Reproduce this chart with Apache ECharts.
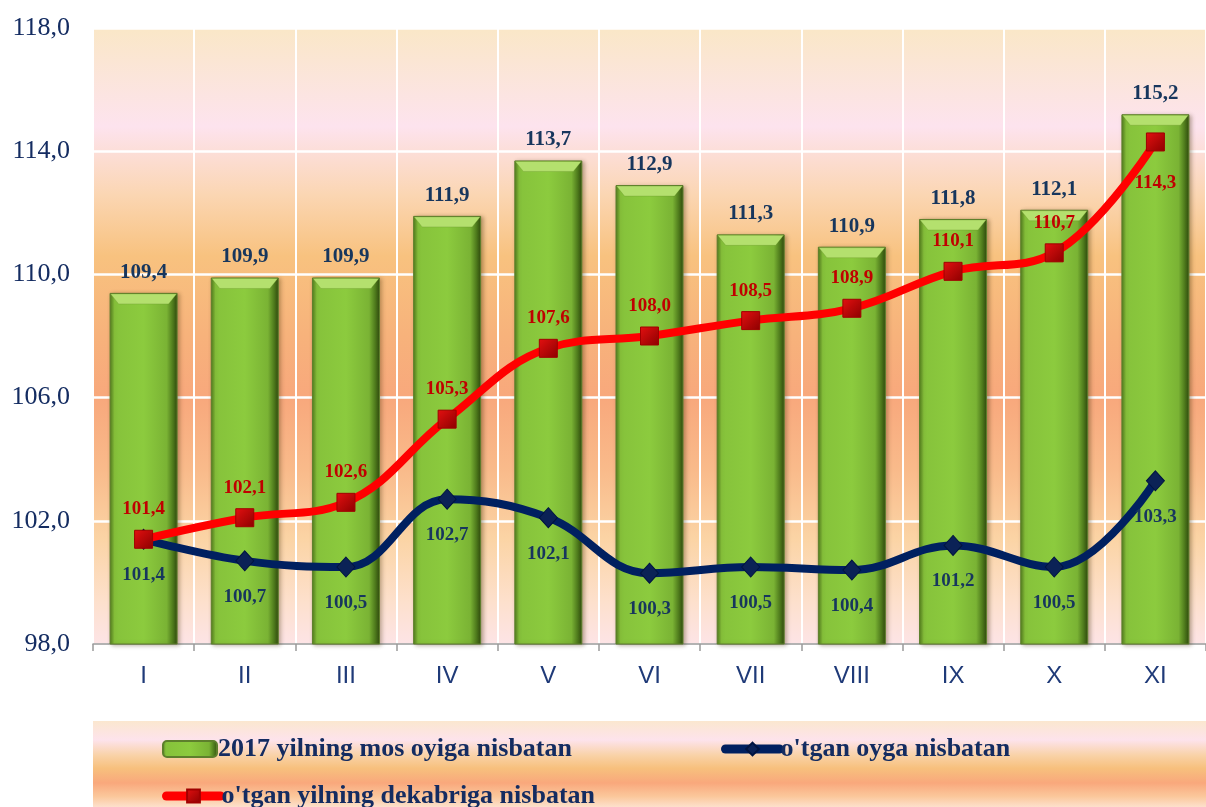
<!DOCTYPE html>
<html>
<head>
<meta charset="utf-8">
<title>Indekslar</title>
<script src="https://cdn.jsdelivr.net/npm/echarts@6/dist/echarts.min.js"></script>
<style>
  html, body { margin: 0; padding: 0; background: #fff; }
  #chart { width: 1206px; height: 807px; }
</style>
</head>
<body>
<div id="chart"></div>
<script>
// oylar
var months = ['I', 'II', 'III', 'IV', 'V', 'VI', 'VII', 'VIII', 'IX', 'X', 'XI'];
// 2017 yilning mos oyiga nisbatan
var prevYearMonth = [109.4, 109.9, 109.9, 111.9, 113.7, 112.9, 111.3, 110.9, 111.8, 112.1, 115.2];
// o'tgan oyga nisbatan
var prevMonth = [101.4, 100.7, 100.5, 102.7, 102.1, 100.3, 100.5, 100.4, 101.2, 100.5, 103.3];
// o'tgan yilning dekabriga nisbatan
var prevDecember = [101.4, 102.1, 102.6, 105.3, 107.6, 108.0, 108.5, 108.9, 110.1, 110.7, 114.3];

var names = ['2017 yilning mos oyiga nisbatan', "o'tgan oyga nisbatan", "o'tgan yilning dekabriga nisbatan"];

var navy = '#142c61';
var serif = '"Liberation Serif", "Times New Roman", serif';
var BAR_W = 68;

function comma(v) {
    return v.toFixed(1).replace('.', ',');
}

function grad(stops) {
    return {
        type: 'linear', x: 0, y: 0, x2: 0, y2: 1,
        colorStops: stops.map(function (s) { return { offset: s[0], color: s[1] }; })
    };
}

var chart = echarts.init(document.getElementById('chart'));

// red labels: XI goes under the point
var redData = prevDecember.map(function (v, i) {
    if (i === prevDecember.length - 1) {
        return { value: v, label: { position: 'bottom', distance: 22 } };
    }
    return v;
});

// light bevel on the top of each bar
function renderBevel(params, api) {
    var top = api.coord([api.value(0), api.value(1)]);
    var h = BAR_W / 2;
    var x = top[0], y = top[1];
    return {
        type: 'polygon',
        z2: 10,
        shape: { points: [[x - h + 1, y + 1], [x + h - 1, y + 1], [x + h - 9, y + 11], [x - h + 9, y + 11]] },
        style: { fill: '#b4e06e', stroke: 'rgba(90,130,30,0.5)', lineWidth: 0.5 }
    };
}

var legendBase = {
    orient: 'horizontal',
    itemWidth: 54,
    itemHeight: 16,
    itemGap: 4,
    lineStyle: { width: 9, cap: 'round' },
    textStyle: { fontFamily: serif, fontWeight: 'bold', fontSize: 26, color: navy, padding: [0, 0, 0, -4] }
};

var option = {
    backgroundColor: '#ffffff',
    animation: false,
    graphic: [{
        type: 'rect',
        z: -10,
        shape: { x: 93, y: 721, width: 1120, height: 86 },
        style: {
            fill: grad([[0, '#fbe7cf'], [0.22, '#fde3ec'], [0.4, '#f9d2a7'], [0.55, '#f7c07d'], [0.72, '#f9a87c'], [0.88, '#fbc89c'], [1, '#fde0cc']])
        }
    }],
    legend: [
        Object.assign({ left: 157, top: 731, data: [names[0]] }, legendBase),
        Object.assign({ left: 716, top: 731, data: [names[1]] }, legendBase),
        Object.assign({ left: 157, top: 778, data: [names[2]] }, legendBase)
    ],
    grid: {
        left: 93,
        top: 28,
        width: 1122,
        height: 616,
        show: true,
        borderWidth: 0,
        backgroundColor: grad([[0, '#fae7c7'], [0.16, '#fde3ee'], [0.27, '#fbd6b3'], [0.37, '#f8c27f'], [0.5, '#f7b27b'], [0.6, '#f8a87c'], [0.72, '#f9bb8b'], [0.83, '#fbd4a5'], [0.93, '#fde0cc'], [1, '#fde4e6']])
    },
    xAxis: {
        type: 'category',
        data: months,
        boundaryGap: true,
        axisLine: { show: true, lineStyle: { color: '#9a9a9a', width: 1.5 } },
        axisTick: { show: true, length: 7, lineStyle: { color: '#9a9a9a', width: 1.5 } },
        axisLabel: { margin: 20, fontFamily: '"Liberation Sans", Arial, sans-serif', fontSize: 24, color: '#1f3a78' },
        splitLine: { show: true, lineStyle: { color: '#ffffff', width: 2 } }
    },
    yAxis: {
        type: 'value',
        min: 98,
        max: 118,
        interval: 4,
        axisLine: { show: false },
        axisTick: { show: false },
        axisLabel: { margin: 23, fontFamily: serif, fontSize: 26, color: navy, formatter: comma },
        splitLine: { show: true, lineStyle: { color: '#ffffff', width: 2.5 } }
    },
    series: [
        {
            name: names[0],
            type: 'bar',
            data: prevYearMonth,
            barWidth: BAR_W,
            itemStyle: {
                color: {
                    type: 'linear', x: 0, y: 0, x2: 1, y2: 0,
                    colorStops: [
                        { offset: 0, color: '#4f7a1d' },
                        { offset: 0.07, color: '#86c23b' },
                        { offset: 0.5, color: '#8ccb3e' },
                        { offset: 0.84, color: '#7ab334' },
                        { offset: 0.93, color: '#4e7a1c' },
                        { offset: 1, color: '#2f4a0e' }
                    ]
                },
                borderColor: '#5d7f2c',
                borderWidth: 1,
                shadowColor: 'rgba(60,40,0,0.35)',
                shadowBlur: 4,
                shadowOffsetX: 2,
                shadowOffsetY: 1
            },
            label: {
                show: true,
                position: 'top',
                distance: 10,
                fontFamily: serif,
                fontWeight: 'bold',
                fontSize: 21,
                color: '#17365d',
                formatter: function (p) { return comma(p.value); }
            },
            z: 2
        },
        {
            type: 'custom',
            data: prevYearMonth.map(function (v, i) { return [i, v]; }),
            encode: { x: 0, y: 1 },
            renderItem: renderBevel,
            silent: true,
            clip: false,
            z: 3
        },
        {
            name: names[1],
            type: 'line',
            data: prevMonth,
            smooth: 0.4,
            symbol: 'diamond',
            symbolSize: [18, 20],
            lineStyle: { color: '#002060', width: 8 },
            itemStyle: { color: '#0b2256', borderColor: '#001440', borderWidth: 1 },
            label: {
                show: true,
                position: 'bottom',
                distance: 16,
                fontFamily: serif,
                fontWeight: 'bold',
                fontSize: 19,
                color: '#17365d',
                formatter: function (p) { return comma(p.value); }
            },
            z: 4
        },
        {
            name: names[2],
            type: 'line',
            data: redData,
            smooth: 0.4,
            symbol: 'rect',
            symbolSize: 18,
            lineStyle: { color: '#ff0000', width: 8 },
            itemStyle: {
                color: {
                    type: 'linear', x: 0, y: 0, x2: 1, y2: 1,
                    colorStops: [{ offset: 0, color: '#e41010' }, { offset: 1, color: '#8c0000' }]
                },
                borderColor: '#a00000',
                borderWidth: 1
            },
            label: {
                show: true,
                position: 'top',
                distance: 11,
                fontFamily: serif,
                fontWeight: 'bold',
                fontSize: 19,
                color: '#c00000',
                formatter: function (p) { return comma(p.value); }
            },
            z: 5
        }
    ]
};

chart.setOption(option);
</script>
</body>
</html>
